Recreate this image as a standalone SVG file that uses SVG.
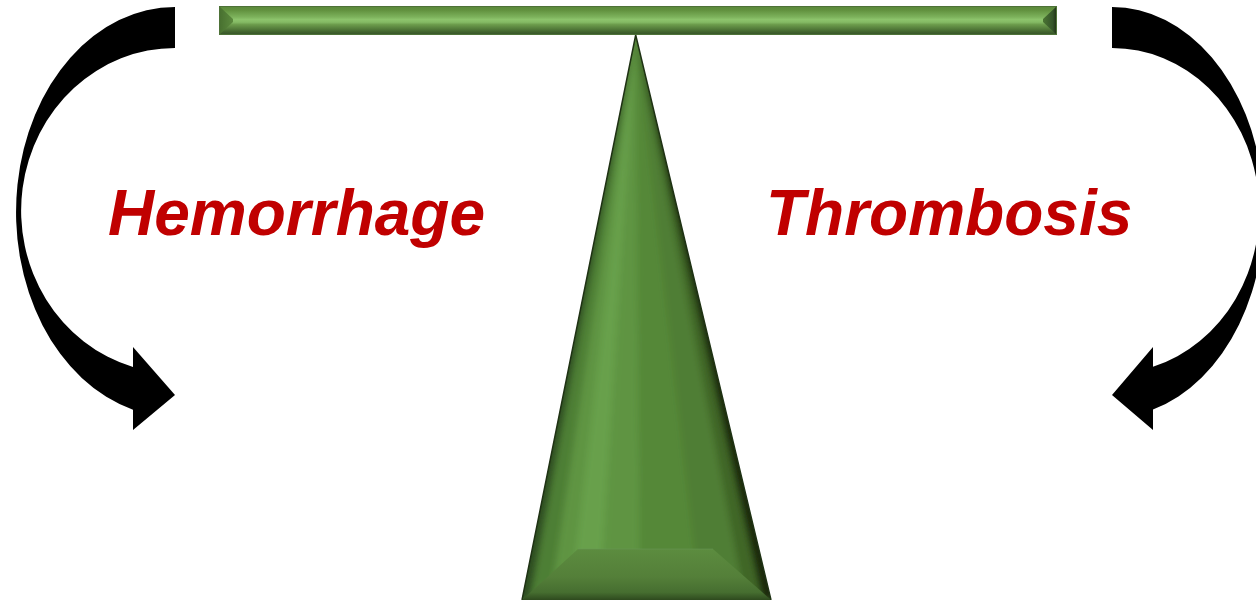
<svg xmlns="http://www.w3.org/2000/svg" width="1256" height="600" viewBox="0 0 1256 600">
  <style>
    .label { font-family: "Liberation Sans", Arial, sans-serif; font-weight: bold; font-style: italic; font-size: 64px; fill: #C00000; }
    .arrow { fill: #000000; }
  </style>
  <defs>
    <linearGradient id="beamG" x1="0" y1="0" x2="0" y2="1">
      <stop offset="0" stop-color="#5A873B"/>
      <stop offset="0.15" stop-color="#62923F"/>
      <stop offset="0.38" stop-color="#7DB25C"/>
      <stop offset="0.47" stop-color="#8DC46C"/>
      <stop offset="0.56" stop-color="#84BA64"/>
      <stop offset="0.64" stop-color="#6C9C4C"/>
      <stop offset="0.78" stop-color="#557E3B"/>
      <stop offset="0.9" stop-color="#40622D"/>
      <stop offset="1" stop-color="#35522A"/>
    </linearGradient>
    <linearGradient id="beamL" x1="0" y1="0" x2="1" y2="0">
      <stop offset="0" stop-color="#476F2F"/>
      <stop offset="1" stop-color="#5C8A3E"/>
    </linearGradient>
    <linearGradient id="beamR" x1="0" y1="0" x2="1" y2="0">
      <stop offset="0" stop-color="#4A7432"/>
      <stop offset="0.7" stop-color="#35542A"/>
      <stop offset="1" stop-color="#1C2C12"/>
    </linearGradient>
    <linearGradient id="baseG" x1="0" y1="0" x2="0" y2="1">
      <stop offset="0" stop-color="#5C8C3F"/>
      <stop offset="0.55" stop-color="#547F39"/>
      <stop offset="0.85" stop-color="#466E30"/>
      <stop offset="1" stop-color="#2E4A1E"/>
    </linearGradient>
    <clipPath id="triClip">
      <polygon points="635.7,35 522,600 771,600"/>
    </clipPath>
    <filter id="soft" x="-10%" y="-10%" width="120%" height="120%">
      <feGaussianBlur stdDeviation="3"/>
    </filter>
  </defs>

  <g id="connectors">
    <path id="arrow-left" class="arrow" d="M175,7 A159,205 0 0 0 133,409.7 L133,430 L175,395 L133,347 L133,367 A154,162.6 0 0 1 175,48 Z"/>
    <path id="arrow-right" class="arrow" d="M1112,7 A152,205 0 0 1 1153,409.4 L1153,430 L1112,395 L1153,347 L1153,366.8 A147,162.6 0 0 0 1112,48 Z"/>
  </g>

  <g id="fulcrum">
    <g clip-path="url(#triClip)">
      <polygon points="635.7,35 522,600 771,600" fill="#5A8A3C"/>
      <g filter="url(#soft)">
        <polygon points="635.7,35 500,600 530,600" fill="#2F4D20"/>
        <polygon points="635.7,35 530,600 550,600" fill="#4E7F36"/>
        <polygon points="635.7,35 550,600 570,600" fill="#5E9442"/>
        <polygon points="635.7,35 570,600 600,600" fill="#68A04B"/>
        <polygon points="635.7,35 600,600 640,600" fill="#5F9442"/>
        <polygon points="635.7,35 640,600 700,600" fill="#558839"/>
        <polygon points="635.7,35 700,600 745,600" fill="#4F7E35"/>
        <polygon points="635.7,35 745,600 762,600" fill="#3F6628"/>
        <polygon points="635.7,35 762,600 800,600" fill="#1A2A10"/>
      </g>
      <polygon points="522,600 578,549 713,549 771,600" fill="url(#baseG)"/>
      <polyline points="578,549 713,549" fill="none" stroke="#66985A" stroke-opacity="0.35" stroke-width="1.5"/>
    </g>
    <polyline points="522,600 635.7,35 771,600" fill="none" stroke="#1F3214" stroke-width="1.5"/>
  </g>

  <g id="beam">
    <rect x="219" y="6" width="838" height="29" fill="url(#beamG)"/>
    <polygon points="219,6 233,19 233,22 219,35" fill="url(#beamL)"/>
    <polygon points="1057,6 1043,19 1043,22 1057,35" fill="url(#beamR)"/>
    <rect x="219.5" y="6.5" width="837" height="28" fill="none" stroke="#4E7238" stroke-width="1"/>
  </g>

  <g id="label-hemorrhage">
    <text class="label" x="108" y="235">Hemorrhage</text>
  </g>
  <g id="label-thrombosis">
    <text class="label" x="766" y="235">Thrombosis</text>
  </g>
</svg>
